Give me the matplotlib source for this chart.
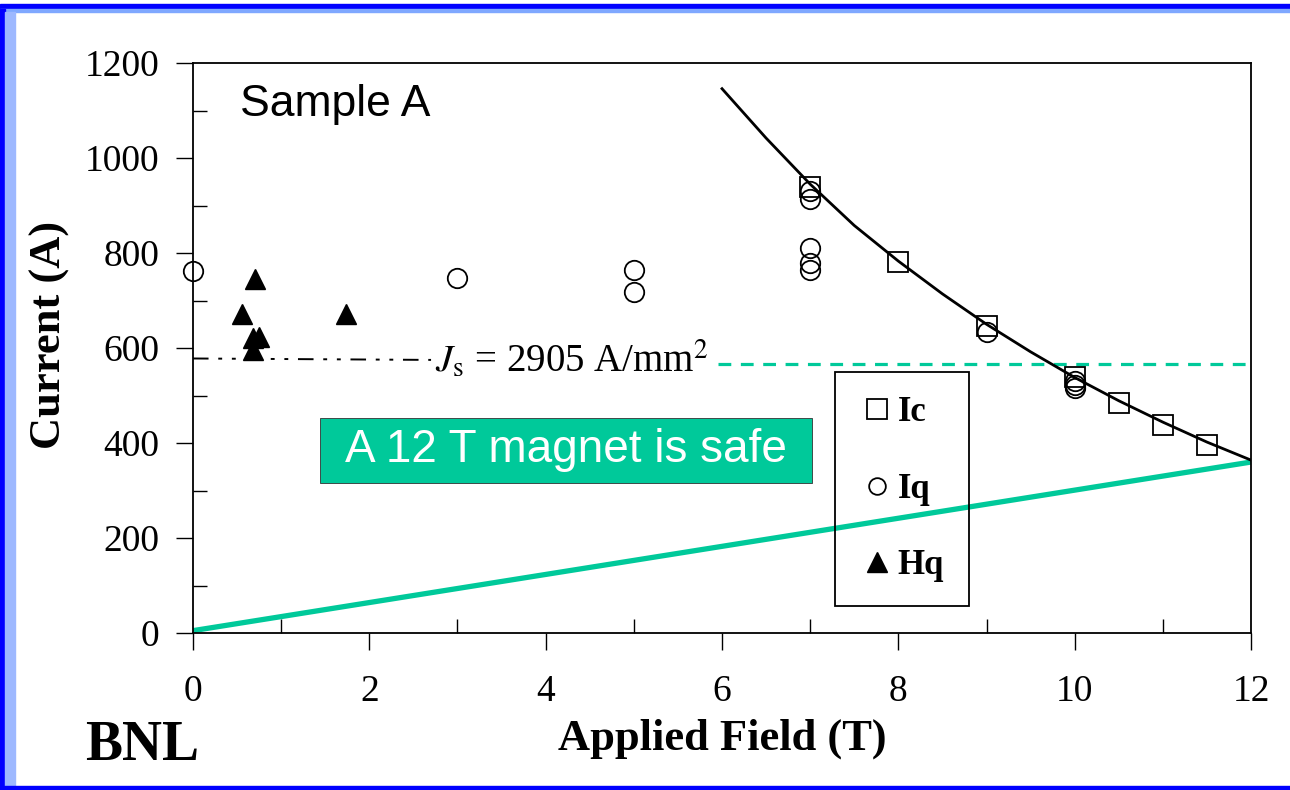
import matplotlib
matplotlib.use("Agg")
import matplotlib.pyplot as plt
from matplotlib.lines import Line2D
from matplotlib.patches import Rectangle

# Data
ic_field = [7, 8, 9, 10, 10.5, 11, 11.5]
ic_current = [938, 781, 647, 540, 485, 439, 395]

iq_field = [0, 3, 5, 5, 7, 7, 7, 7, 7, 9, 10, 10, 10]
iq_current = [762, 747, 764, 718, 930, 913, 811, 780, 765, 634, 530, 522, 515]

hq_field = [0.70, 0.56, 1.73, 0.75, 0.68, 0.68]
hq_current = [745, 672, 672, 624, 621, 596]

# fitted Ic curve, read at points along the drawn line
fit_field = [6.0, 6.5, 7.0, 7.5, 8.0, 8.5, 9.0, 9.5, 10.0, 10.5, 11.0, 11.5, 12.0]
fit_current = [1146, 1042, 945, 858, 783, 714, 650, 592, 538, 489, 444, 402, 364]

# load line of the magnet
load_field = [0, 12]
load_current = [5, 360]

# stress limit line Js = 2905 A/mm^2
js_black_field = [0, 2.7]
js_black_current = [578, 575]
js_green_field = [5.95, 12]
js_green_current = [567, 567]

green = "#00C99A"
serif = ["Liberation Serif", "DejaVu Serif"]
sans = ["Liberation Sans", "DejaVu Sans"]

plt.rcParams["font.family"] = serif
plt.rcParams["mathtext.fontset"] = "stix"

fig = plt.figure(figsize=(12.9, 7.9), dpi=100)
fig.patch.set_facecolor("white")
ax = fig.add_axes([0.1496, 0.1987, 0.8202, 0.7215])

# curves
ax.plot(fit_field, fit_current, color="black", lw=2.0, zorder=3)
ax.plot(load_field, load_current, color=green, lw=3.8, zorder=2, solid_capstyle="butt")
ax.plot(js_black_field, js_black_current, color="black", lw=1.4,
        linestyle=(0, (8, 5, 2, 5, 2, 5)), zorder=2)
ax.plot(js_green_field, js_green_current, color=green, lw=2.3,
        linestyle=(0, (4, 3)), zorder=2)

# data points
ax.plot(ic_field, ic_current, linestyle="none", marker="s", ms=14.5, mfc="none",
        mec="black", mew=1.3, zorder=4)
ax.plot(iq_field, iq_current, linestyle="none", marker="o", ms=14, mfc="none",
        mec="black", mew=1.3, zorder=4, clip_on=False)
ax.plot(hq_field, hq_current, linestyle="none", marker="^", ms=15, mfc="black",
        mec="black", zorder=4)

# texts
ax.text(0.53, 1112, "Sample A", fontsize=32, family=sans, va="center", ha="left")
ax.text(2.74, 575, r"$J_{\rm s}$ = 2905 A/mm$^2$", fontsize=28, va="center", ha="left")
ax.add_patch(Rectangle((1.44, 316), 5.58, 137, facecolor=green, edgecolor="#333333",
                       lw=0.6, zorder=3))
ax.text(4.23, 386, "A 12 T magnet is safe", fontsize=33, family=sans, color="white",
        ha="center", va="center", zorder=4)

# legend
handles = [
    Line2D([], [], linestyle="none", marker="s", ms=14, mfc="none", mec="black", mew=1.3),
    Line2D([], [], linestyle="none", marker="o", ms=12, mfc="none", mec="black", mew=1.3),
    Line2D([], [], linestyle="none", marker="^", ms=15, mfc="black", mec="black"),
]
leg = ax.legend(handles, ["Ic", "Iq", "Hq"], loc="upper left",
                bbox_to_anchor=(0.607, 0.458), frameon=True, fancybox=False,
                edgecolor="black", facecolor="none", framealpha=1,
                prop={"family": serif, "weight": "bold", "size": 25},
                labelspacing=1.25, borderpad=0.7, handletextpad=0.1,
                handlelength=1.0, borderaxespad=0)
leg.get_frame().set_linewidth(1.3)
leg.set_zorder(5)

# axes
ax.set_xlim(0, 12)
ax.set_ylim(0, 1200)
ax.set_xticks(range(0, 13, 2))
ax.set_xticks(range(1, 12, 2), minor=True)
ax.set_yticks(range(0, 1201, 200))
ax.set_yticks(range(100, 1200, 200), minor=True)
ax.tick_params(axis="both", which="major", direction="out", length=12, width=1,
               labelsize=27)
ax.tick_params(axis="both", which="minor", direction="in", length=10, width=1)
ax.tick_params(axis="x", which="major", pad=18)
ax.tick_params(axis="y", which="major", pad=12)
for s in ax.spines.values():
    s.set_linewidth(1.3)

ax.set_xlabel("Applied Field (T)", fontsize=32, fontweight="bold")
ax.set_ylabel("Current (A)", fontsize=32, fontweight="bold")
ax.xaxis.set_label_coords(0.5, -0.15)
ax.yaxis.set_label_coords(-0.116, 0.523)

fig.text(0.066, 0.038, "BNL", fontsize=40, fontweight="bold", ha="left", va="baseline")

# slide frame
fig.patches.append(Rectangle((0, 1 - 9 / 790), 1, 5 / 790, transform=fig.transFigure,
                             color="#0000FF", zorder=0))
fig.patches.append(Rectangle((0, 1 - 12 / 790), 1, 3 / 790, transform=fig.transFigure,
                             color="#7FA8FF", zorder=0))
fig.patches.append(Rectangle((0, 0), 5 / 1290, 1 - 9 / 790, transform=fig.transFigure,
                             color="#0000FF", zorder=0))
fig.patches.append(Rectangle((5 / 1290, 0), 10 / 1290, 1 - 12 / 790,
                             transform=fig.transFigure, color="#9DB8FF", zorder=0))
fig.patches.append(Rectangle((0, 0), 1, 4 / 790, transform=fig.transFigure,
                             color="#0000FF", zorder=0))

fig.savefig("out.png", dpi=100)
